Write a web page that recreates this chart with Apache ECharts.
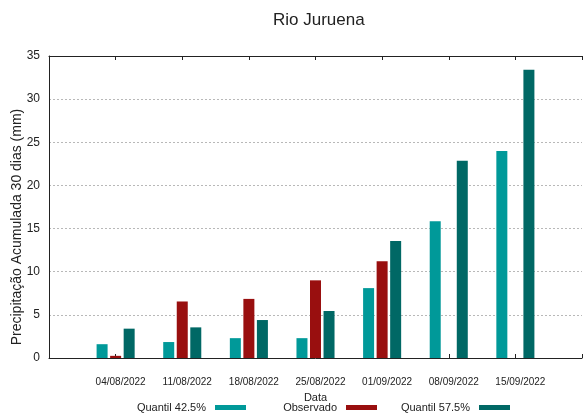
<!DOCTYPE html>
<html>
<head>
<meta charset="utf-8">
<script src="https://cdn.jsdelivr.net/npm/echarts@6/dist/echarts.min.js"></script>
<style>
html,body{margin:0;padding:0;background:#fff;}
#chart{width:585px;height:415px;}
</style>
</head>
<body>
<div id="chart"></div>
<script>
const categories = ['04/08/2022','11/08/2022','18/08/2022','25/08/2022','01/09/2022','08/09/2022','15/09/2022'];
const q425 = [1.6, 1.85, 2.3, 2.3, 8.1, 15.85, 24.0];
const observed = [0.25, 6.55, 6.85, 9.0, 11.2, null, null];
const q575 = [3.4, 3.55, 4.4, 5.45, 13.55, 22.85, 33.4];
const yTicks = [0, 5, 10, 15, 20, 25, 30, 35];

const FONT = "'Liberation Sans', Arial, sans-serif";
const toXY = arr => arr.map((v, i) => [i, v]);

const chart = echarts.init(document.getElementById('chart'), null, {renderer: 'canvas'});
const legendCommon = {
  orient: 'horizontal', align: 'right', icon: 'rect', itemWidth: 31, itemHeight: 5,
  padding: 0, top: 402, selectedMode: false,
  textStyle: {fontFamily: FONT, fontSize: 11, color: '#222', padding: [0, 4, 0, 0]}
};
chart.setOption({
  animation: false,
  backgroundColor: '#fff',
  title: {
    text: 'Rio Juruena', left: 273, top: 12, padding: 0,
    textStyle: {fontFamily: FONT, fontSize: 17, fontWeight: 'normal', color: '#222'}
  },
  legend: [
    Object.assign({}, legendCommon, {data: ['Quantil 42.5%'], right: 339}),
    Object.assign({}, legendCommon, {data: ['Observado'], right: 208}),
    Object.assign({}, legendCommon, {data: ['Quantil 57.5%'], right: 75})
  ],
  grid: {left: 49, right: -3, top: 56, bottom: 57, containLabel: false},
  graphic: [{
    type: 'text', x: 17, y: 227, rotation: Math.PI / 2,
    style: {text: 'Precipitação Acumulada 30 dias (mm)', fontFamily: FONT, fontSize: 14,
      fill: '#222', align: 'center', verticalAlign: 'middle'}
  }],
  xAxis: [{
    type: 'value', position: 'bottom', min: -1, max: 7, interval: 1,
    name: 'Data', nameLocation: 'middle', nameGap: 34,
    nameTextStyle: {fontFamily: FONT, fontSize: 11, color: '#222'},
    axisLine: {show: true, onZero: false, lineStyle: {color: '#222', width: 1}},
    axisTick: {show: true, inside: true, length: 4, lineStyle: {color: '#222'}},
    axisLabel: {show: true, margin: 19, fontFamily: FONT, fontSize: 10, color: '#222',
      padding: [0, 0, 0, 10],
      formatter: v => (categories[v] !== undefined ? categories[v] : '')},
    splitLine: {show: false}
  }, {
    type: 'value', position: 'top', min: -1, max: 7, interval: 1,
    axisLine: {show: true, onZero: false, lineStyle: {color: '#222', width: 1}},
    axisTick: {show: true, inside: true, length: 4, lineStyle: {color: '#222'}},
    axisLabel: {show: false},
    splitLine: {show: false}
  }],
  yAxis: {
    type: 'value', min: 0, max: 35, interval: 5,
    axisLine: {show: true, onZero: false, lineStyle: {color: '#222', width: 1}},
    axisTick: {show: false},
    axisLabel: {margin: 9, fontFamily: FONT, fontSize: 12, color: '#222',
      formatter: v => (yTicks.indexOf(v) >= 0 ? String(v) : '')},
    splitLine: {show: true, lineStyle: {color: '#b8b8b8', type: [2, 2], width: 1}}
  },
  series: [
    {name: 'Quantil 42.5%', type: 'bar', data: toXY(q425), barWidth: 11, barGap: '23%',
      itemStyle: {color: '#009999'}},
    {name: 'Observado', type: 'bar', data: toXY(observed), barWidth: 11, barGap: '23%',
      itemStyle: {color: '#990f0f'}},
    {name: 'Quantil 57.5%', type: 'bar', data: toXY(q575), barWidth: 11, barGap: '23%',
      itemStyle: {color: '#006865'}}
  ]
});
</script>
</body>
</html>
